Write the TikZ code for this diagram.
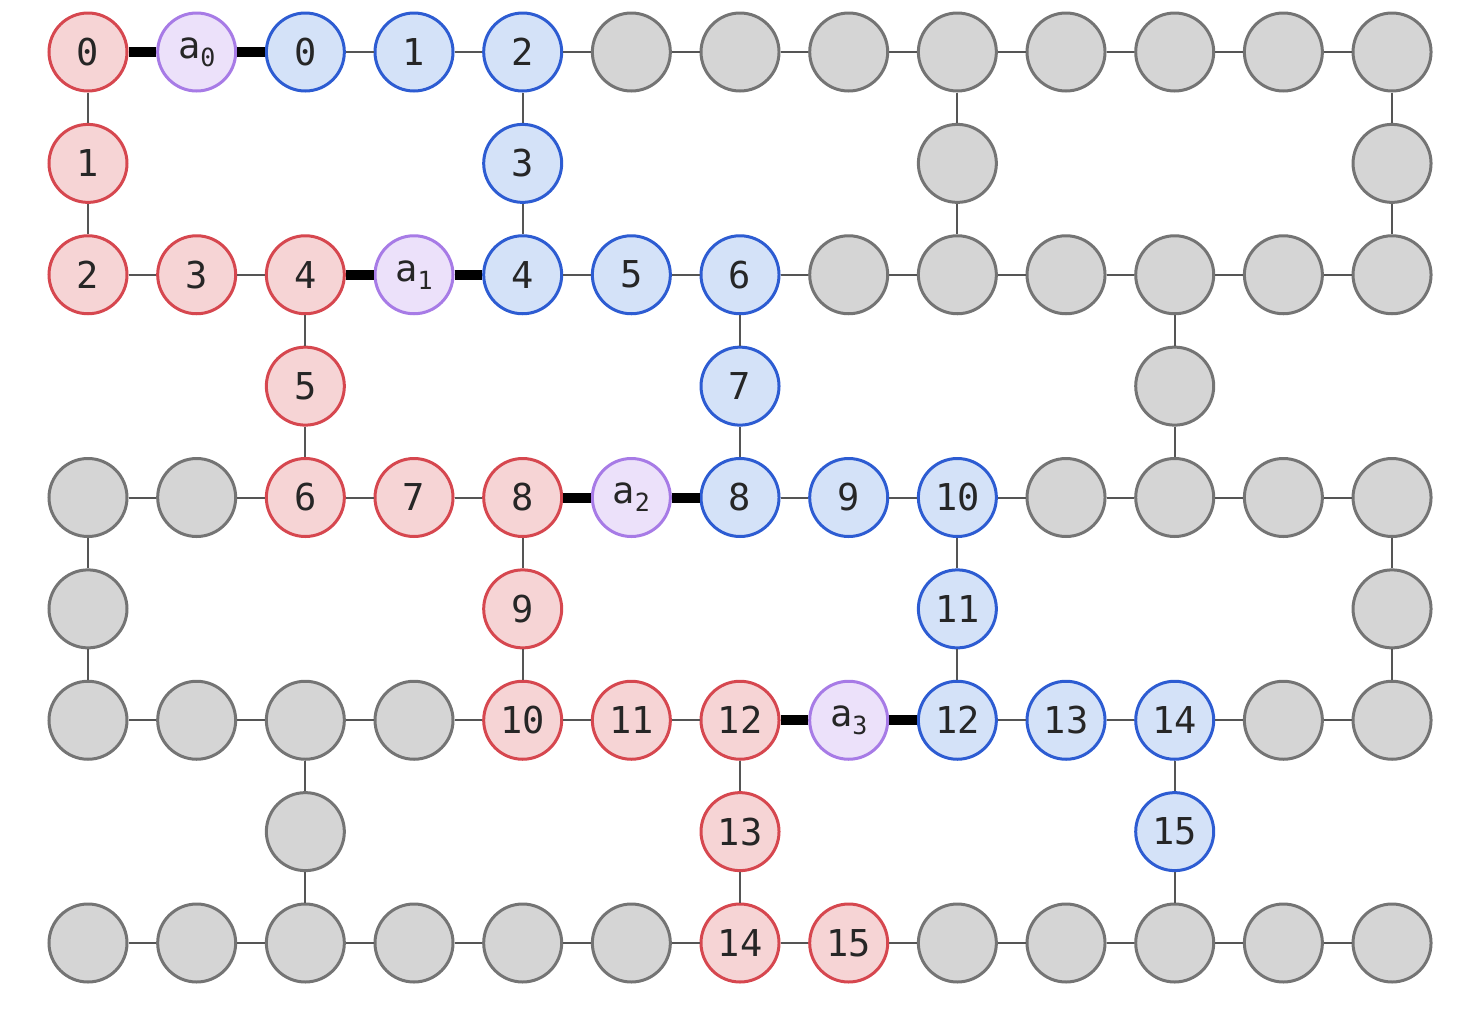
\documentclass[tikz,border=0pt]{standalone}
\usepackage{fontspec}
\setmonofont{DejaVu Sans Mono}
\definecolor{rs}{HTML}{D6474F}
\definecolor{rf}{HTML}{F6D4D5}
\definecolor{bs}{HTML}{2D5CD2}
\definecolor{bf}{HTML}{D4E2F8}
\definecolor{ps}{HTML}{A77BE6}
\definecolor{pf}{HTML}{ECE1FA}
\definecolor{gs}{HTML}{747474}
\definecolor{gf}{HTML}{D5D5D5}
\definecolor{ec}{HTML}{555555}
\definecolor{tx}{HTML}{262626}
\newcommand\qfont{\fontsize{37}{40}\selectfont\ttfamily}
\newcommand\anc[1]{a\raisebox{-8pt}{\fontsize{25}{25}\selectfont #1}}
\newcommand\qn[4]{\node[#3] (n#1-#2) at ({88+#2*108.67},{52+#1*111.375}) {#4};}
\begin{document}
\begin{tikzpicture}[x=1pt,y=-1pt,
  q/.style={circle,minimum size=78pt,inner sep=0pt,line width=3pt,font=\qfont,text=tx},
  rq/.style={q,draw=rs,fill=rf},
  bq/.style={q,draw=bs,fill=bf},
  pq/.style={q,draw=ps,fill=pf},
  gq/.style={q,draw=gs,fill=gf},
  thin edge/.style={line width=2pt,draw=ec},
  thick edge/.style={line width=10pt,draw=black}]
\useasboundingbox (0,0) rectangle (1468,1018);
% row 0
\qn{0}{0}{rq}{0}\qn{0}{1}{pq}{\anc{0}}\qn{0}{2}{bq}{0}\qn{0}{3}{bq}{1}\qn{0}{4}{bq}{2}
\foreach \c in {5,...,12} {\qn{0}{\c}{gq}{}}
% row 1
\qn{1}{0}{rq}{1}\qn{1}{4}{bq}{3}\qn{1}{8}{gq}{}\qn{1}{12}{gq}{}
% row 2
\qn{2}{0}{rq}{2}\qn{2}{1}{rq}{3}\qn{2}{2}{rq}{4}\qn{2}{3}{pq}{\anc{1}}\qn{2}{4}{bq}{4}\qn{2}{5}{bq}{5}\qn{2}{6}{bq}{6}
\foreach \c in {7,...,12} {\qn{2}{\c}{gq}{}}
% row 3
\qn{3}{2}{rq}{5}\qn{3}{6}{bq}{7}\qn{3}{10}{gq}{}
% row 4
\qn{4}{0}{gq}{}\qn{4}{1}{gq}{}\qn{4}{2}{rq}{6}\qn{4}{3}{rq}{7}\qn{4}{4}{rq}{8}\qn{4}{5}{pq}{\anc{2}}\qn{4}{6}{bq}{8}\qn{4}{7}{bq}{9}\qn{4}{8}{bq}{10}
\foreach \c in {9,...,12} {\qn{4}{\c}{gq}{}}
% row 5
\qn{5}{0}{gq}{}\qn{5}{4}{rq}{9}\qn{5}{8}{bq}{11}\qn{5}{12}{gq}{}
% row 6
\foreach \c in {0,...,3} {\qn{6}{\c}{gq}{}}
\qn{6}{4}{rq}{10}\qn{6}{5}{rq}{11}\qn{6}{6}{rq}{12}\qn{6}{7}{pq}{\anc{3}}\qn{6}{8}{bq}{12}\qn{6}{9}{bq}{13}\qn{6}{10}{bq}{14}\qn{6}{11}{gq}{}\qn{6}{12}{gq}{}
% row 7
\qn{7}{2}{gq}{}\qn{7}{6}{rq}{13}\qn{7}{10}{bq}{15}
% row 8
\foreach \c in {0,...,5} {\qn{8}{\c}{gq}{}}
\qn{8}{6}{rq}{14}\qn{8}{7}{rq}{15}
\foreach \c in {8,...,12} {\qn{8}{\c}{gq}{}}
% horizontal edges
\foreach \r in {0,2,4,6,8} {
  \foreach \c [evaluate=\c as \d using int(\c+1)] in {0,...,11} {
    \draw[thin edge] (n\r-\c) -- (n\r-\d);
  }
}
% vertical edges
\foreach \r/\s/\t in {0/1/2,4/5/6} {
  \foreach \c in {0,4,8,12} {
    \draw[thin edge] (n\r-\c) -- (n\s-\c) (n\s-\c) -- (n\t-\c);
  }
}
\foreach \r/\s/\t in {2/3/4,6/7/8} {
  \foreach \c in {2,6,10} {
    \draw[thin edge] (n\r-\c) -- (n\s-\c) (n\s-\c) -- (n\t-\c);
  }
}
% thick couplings
\foreach \r/\a/\b in {0/0/1,0/1/2,2/2/3,2/3/4,4/4/5,4/5/6,6/6/7,6/7/8} {
  \draw[thick edge] (n\r-\a) -- (n\r-\b);
}
\end{tikzpicture}
\end{document}
